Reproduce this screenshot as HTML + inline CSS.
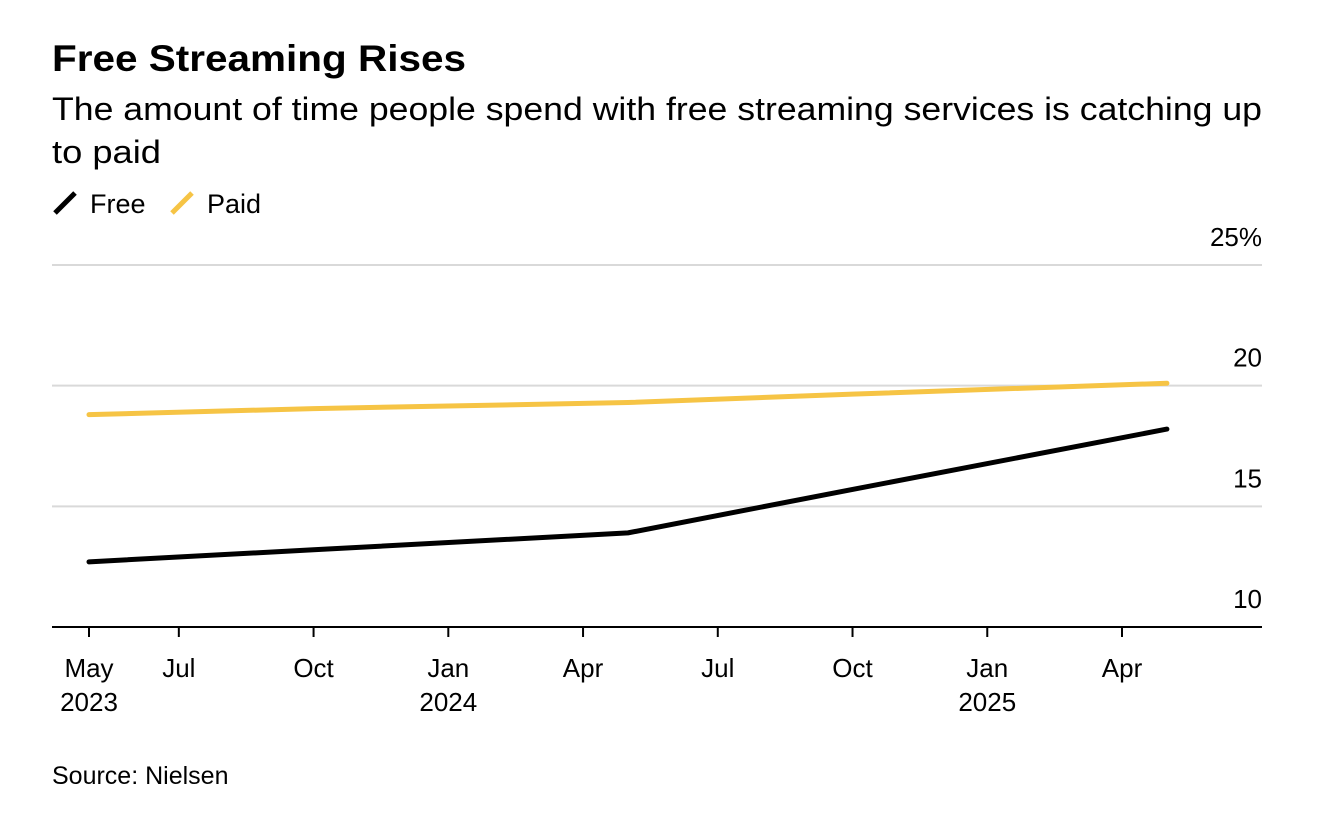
<!DOCTYPE html>
<html><head><meta charset="utf-8"><style>
body{margin:0;width:1334px;height:832px;background:#fff;font-family:"Liberation Sans",Arial,sans-serif;color:#000;overflow:hidden}
svg text{font-family:"Liberation Sans",Arial,sans-serif}
</style></head><body>
<svg id="c" width="1334" height="832">
<text x="52" y="71" font-size="37" font-weight="bold" textLength="414" lengthAdjust="spacingAndGlyphs">Free Streaming Rises</text>
<text x="52" y="120" font-size="32" textLength="1210" lengthAdjust="spacingAndGlyphs">The amount of time people spend with free streaming services is catching up</text>
<text x="52" y="163" font-size="32" textLength="109" lengthAdjust="spacingAndGlyphs">to paid</text>
<g><line x1="55" y1="213" x2="75" y2="193" stroke="#000" stroke-width="5"/><text x="90" y="213" font-size="27">Free</text></g>
<g><line x1="172" y1="213" x2="192" y2="193" stroke="#f6c445" stroke-width="5"/><text x="207" y="213" font-size="27">Paid</text></g>
<g id="grid"></g><g id="xax"></g><g id="lines"></g>
<text x="52" y="784" font-size="25">Source: Nielsen</text>
</svg>
<script>
const yTicks=[10,15,20,25];
const yTickLabels=["10","15","20","25%"];
const xTickMonths=[0,2,5,8,11,14,17,20,23];
const xTickLabels=["May","Jul","Oct","Jan","Apr","Jul","Oct","Jan","Apr"];
const xTickYears=["2023","","","2024","","","","2025",""];
const dataMonths=[0,5,12,17,24];
const freeValues=[12.7,13.2,13.9,15.7,18.2];
const paidValues=[18.8,19.05,19.3,19.65,20.1];
const NS="http://www.w3.org/2000/svg";
const X=m=>89+m*(1122-89)/23;
const Y=v=>627-(v-10)*(627-265)/15;
function mk(t,a,p){const e=document.createElementNS(NS,t);for(const k in a)e.setAttribute(k,a[k]);p.appendChild(e);return e;}
const g=document.getElementById('grid');
yTicks.forEach((v,i)=>{
 if(i>0){const l=mk('line',{x1:52,x2:1262,y1:Y(v),y2:Y(v),stroke:'#d9d9d9','stroke-width':2},g);
 
 }
 const t=mk('text',{x:1262,y:Y(v)-19,'text-anchor':'end','font-size':26},g);t.textContent=yTickLabels[i];
 
 
});
const xa=document.getElementById('xax');
const ax=mk('line',{x1:52,x2:1262,y1:627,y2:627,stroke:'#000','stroke-width':2},xa);


xTickMonths.forEach((m,i)=>{
 mk('line',{x1:X(m),x2:X(m),y1:627,y2:637,stroke:'#000','stroke-width':2},xa);
 const t=mk('text',{x:X(m),y:677,'text-anchor':'middle','font-size':26},xa);t.textContent=xTickLabels[i];
 
 
 if(xTickYears[i]){const y=mk('text',{x:X(m),y:711,'text-anchor':'middle','font-size':26},xa);y.textContent=xTickYears[i];
 
 }
});
const lg=document.getElementById('lines');
function series(vals,col,name){
 const d=vals.map((v,i)=>(i?'L':'M')+X(dataMonths[i])+','+Y(v)).join(' ');
 const p=mk('path',{d:d,fill:'none',stroke:col,'stroke-width':5,'stroke-linejoin':'round','stroke-linecap':'round'},lg);
 
 
}
series(paidValues,'#f6c445','paid-line');
series(freeValues,'#000','free-line');
</script>
</body></html>
